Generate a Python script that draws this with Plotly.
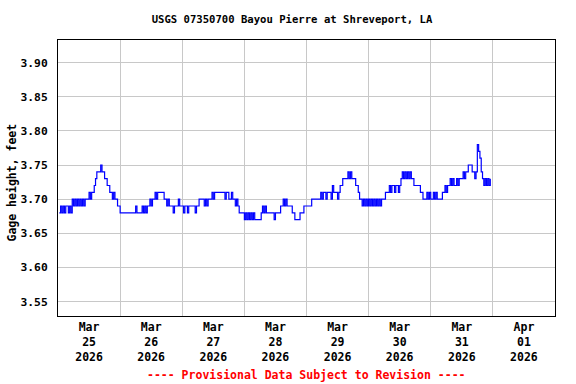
import pandas as pd
import plotly.graph_objects as go

# Gage height in hundredths of a foot, 30-minute readings
mar25 = [368, 369, 368, 369, 368, 369, 369, 368, 369, 368, 370, 369, 370, 369, 370, 369,
         370, 369, 370, 369, 370, 370, 370, 371, 370, 371, 371, 372, 373, 374, 374, 374,
         375, 374, 374, 373, 373, 372, 372, 371, 371, 370, 371, 370, 370, 369, 369]
mar26 = [368, 368, 368, 368, 368, 368, 368, 368, 368, 368, 368, 368, 369, 368, 368, 368,
         368, 369, 368, 369, 368, 369, 369, 370, 369, 370, 370, 371, 370, 371, 371, 371,
         371, 371, 370, 370, 369, 370, 369, 369, 369, 368, 369, 369, 369, 370, 369, 369]
mar27 = [369, 368, 369, 369, 368, 369, 369, 369, 369, 369, 368, 369, 369, 370, 370, 370,
         370, 369, 370, 369, 370, 370, 370, 371, 370, 371, 371, 371, 371, 371, 371, 371,
         371, 370, 371, 371, 370, 370, 371, 370, 370, 369, 370, 369, 368, 368, 368, 368]
mar28 = [367, 368, 367, 368, 367, 368, 367, 368, 367, 367, 367, 367, 367, 368, 369, 368,
         369, 368, 368, 368, 368, 368, 368, 367, 368, 368, 368, 368, 369, 369, 370, 369,
         370, 369, 369, 369, 369, 368, 368, 367, 367, 367, 367, 368, 368, 368, 369, 369]
mar29 = [369, 369, 369, 369, 370, 370, 370, 370, 370, 370, 370, 371, 370, 371, 371, 370,
         371, 371, 371, 370, 372, 371, 371, 371, 370, 371, 372, 372, 373, 373, 373, 373,
         374, 373, 374, 373, 373, 373, 372, 372, 371, 370, 370, 369, 370, 369, 370, 369]
mar30 = [370, 369, 370, 369, 370, 369, 370, 369, 370, 369, 370, 370, 370, 371, 371, 371,
         372, 371, 372, 372, 371, 372, 372, 371, 372, 373, 374, 373, 374, 373, 374, 373,
         374, 373, 373, 372, 372, 372, 372, 372, 371, 371, 370, 370, 370, 371, 370, 371]
mar31 = [370, 370, 371, 370, 371, 370, 370, 370, 370, 371, 371, 372, 371, 372, 372, 373,
         372, 373, 372, 372, 373, 372, 373, 373, 373, 374, 373, 374, 374, 375, 375, 375,
         374, 374, 373, 374, 378, 377, 376, 374, 373, 372, 373, 372, 373, 372, 373]

first_reading = "2026-03-25 00:30"
x_start, x_end = "2026-03-25 00:00", "2026-04-02 00:00"
y_range = [3.529, 3.933]
title = "USGS 07350700 Bayou Pierre at Shreveport, LA"
y_title = "Gage height, feet"
footer = "---- Provisional Data Subject to Revision ----"

vals = mar25 + mar26 + mar27 + mar28 + mar29 + mar30 + mar31
heights = [v / 100 for v in vals]
times = pd.date_range(start=first_reading, periods=len(heights), freq="30min")

FONT = "DejaVu Sans Mono"
W, H = 576, 384
ML, MR, MT, MB = 58, 21, 40, 68
PLOT_W = W - ML - MR
PLOT_H = H - MT - MB

fig = go.Figure(go.Scatter(
    x=times, y=heights, mode="lines",
    line=dict(color="#0000FF", width=1.2, shape="hv"),
    hoverinfo="skip",
))

fig.update_layout(
    width=W, height=H,
    margin=dict(l=ML, r=MR, t=MT, b=MB, autoexpand=False),
    paper_bgcolor="white", plot_bgcolor="white",
    showlegend=False,
    title=dict(text=title, x=292 / W, xanchor="center", xref="container",
               y=1 - 19 / H, yanchor="middle",
               font=dict(family=FONT, size=10.6, color="black", weight="bold")),
    font=dict(family=FONT, color="black"),
)

fig.update_xaxes(
    type="date", range=[x_start, x_end], automargin=False,
    dtick=86400000, tick0="2026-03-25 00:00",
    ticklabelmode="period", tickformat="%b<br>%d<br>%Y",
    showgrid=True, gridcolor="#c8c8c8", gridwidth=1,
    showline=True, linecolor="black", linewidth=1, mirror=True,
    ticks="", tickfont=dict(family=FONT, size=11.5, weight="bold"),
    zeroline=False,
)

fig.update_yaxes(
    range=y_range, dtick=0.05, tick0=3.5, tickformat=".2f", automargin=False,
    showgrid=True, gridcolor="#c8c8c8", gridwidth=1,
    showline=True, linecolor="black", linewidth=1, mirror=True,
    ticks="", ticklabelstandoff=7,
    tickfont=dict(family=FONT, size=11.3, weight="bold"),
    zeroline=False,
)

fig.add_annotation(
    text=y_title, textangle=-90, xref="paper", yref="paper",
    x=(11.5 - ML) / PLOT_W, y=(H - MB - 183) / PLOT_H,
    xanchor="center", yanchor="middle", showarrow=False,
    font=dict(family=FONT, size=11.5, color="black", weight="bold"),
)

fig.add_annotation(
    text=footer, xref="paper", yref="paper", x=0.5, y=-(375 - (H - MB)) / PLOT_H,
    xanchor="center", yanchor="middle", showarrow=False,
    font=dict(family=FONT, size=11.5, color="red", weight="bold"),
)

fig.write_html("out.html", config={"displayModeBar": False, "staticPlot": True},
               post_script="document.body.style.margin='0';")
